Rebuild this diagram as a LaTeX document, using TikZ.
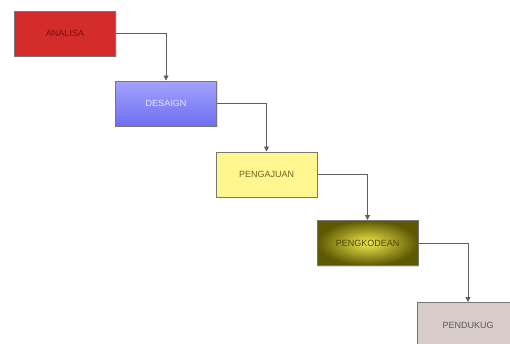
\documentclass[tikz,border=0pt]{standalone}
\usepackage{fontspec}
\setmainfont{Liberation Sans}
\usetikzlibrary{arrows.meta,shadows}
\definecolor{redbox}{HTML}{D42B2B}
\definecolor{redtxt}{HTML}{7A1010}
\definecolor{bluetop}{HTML}{A3A3FF}
\definecolor{bluebot}{HTML}{6E6EF0}
\definecolor{yelbox}{HTML}{FFF690}
\definecolor{yeltxt}{HTML}{6B6420}
\definecolor{olivein}{HTML}{F2EA50}
\definecolor{oliveout}{HTML}{5E5800}
\definecolor{pinkbox}{HTML}{D8CCC8}
\definecolor{edge}{HTML}{777777}
\begin{document}
\begin{tikzpicture}[x=1pt,y=-1pt,
  stage/.style={draw=edge,line width=1pt,minimum width=101pt,minimum height=45pt,
    inner sep=0pt,font=\fontsize{9}{10}\selectfont,
    drop shadow={shadow xshift=1pt,shadow yshift=-1pt,opacity=0.25}},
  conn/.style={draw=edge!80!black,line width=0.9pt,-{Triangle[length=5pt,width=5pt]}}]
\useasboundingbox (0,0) rectangle (510,343);
\clip (0,0) rectangle (510,343);
\fill[white] (0,0) rectangle (510,343);
\node[stage,fill=redbox,text=redtxt] (a) at (65,33.5) {ANALISA};
\node[stage,top color=bluetop,bottom color=bluebot,text=white!90!blue] (b) at (166,103.5) {DESAIGN};
\node[stage,fill=yelbox,text=yeltxt] (c) at (266.5,174.5) {PENGAJUAN};
\node[stage,inner color=olivein,outer color=oliveout,text=yeltxt!70!black] (d) at (367.5,243) {PENGKODEAN};
\node[stage,fill=pinkbox,text=black!65] (e) at (468,325) {PENDUKUG};
\draw[conn] (a.east) -| (b.north);
\draw[conn] (b.east) -| (c.north);
\draw[conn] (c.east) -| (d.north);
\draw[conn] (d.east) -| (e.north);
\end{tikzpicture}
\end{document}
